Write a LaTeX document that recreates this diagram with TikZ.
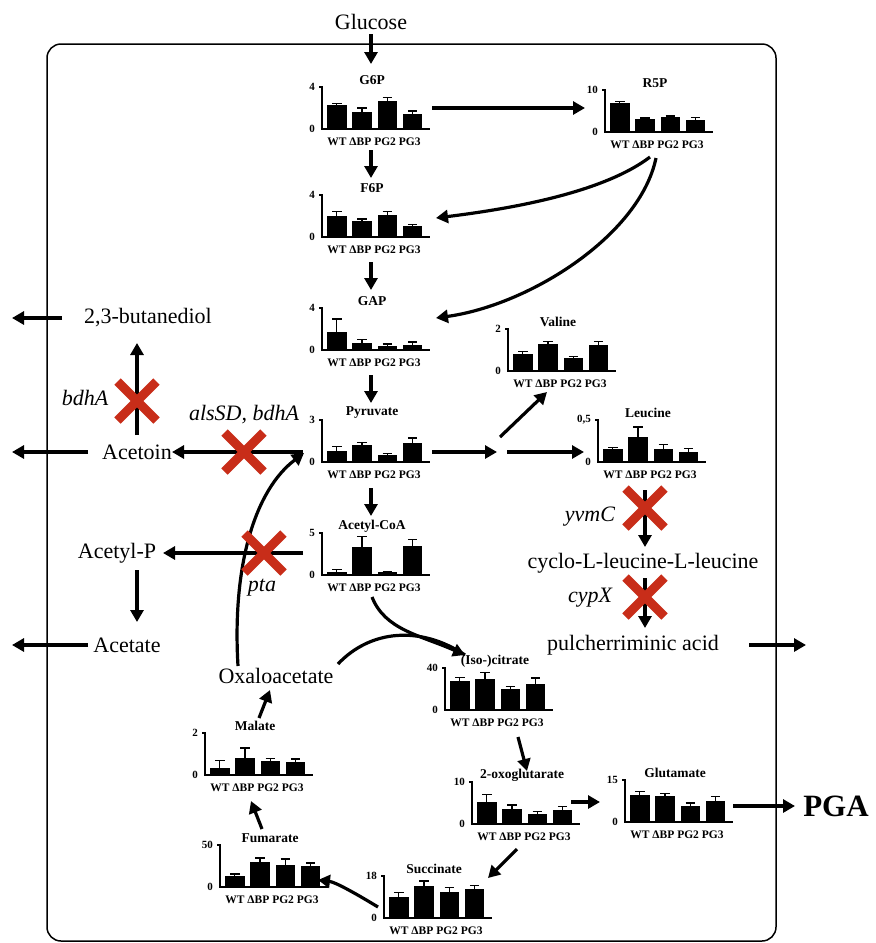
\documentclass[tikz,border=0pt]{standalone}
\usepackage{fontspec}
\setmainfont{Liberation Serif}
\usetikzlibrary{arrows.meta,shapes.misc,calc}
\definecolor{xred}{RGB}{200,45,25}
\tikzset{
 arr/.style={line width=3.2pt,-{Triangle[length=12pt,width=13pt]}},
 lbl/.style={font=\fontsize{22}{26}\selectfont, inner sep=1pt},
 ital/.style={font=\fontsize{22}{26}\selectfont\itshape, inner sep=1pt},
 crossx/.style={cross out, draw=xred, line width=9pt, minimum size=30pt, inner sep=0pt},
 ctitle/.style={font=\fontsize{13.5}{15}\selectfont\bfseries, inner sep=0pt},
 cgrp/.style={font=\fontsize{11.5}{13}\selectfont\bfseries, inner sep=0pt},
 ctick/.style={font=\fontsize{11}{13}\selectfont\bfseries, inner sep=0pt, anchor=east},
 frame/.style={line width=1.5pt, rounded corners=14pt},
}
\newcommand{\mychart}[5]{%
 \begin{scope}[shift={(#2)}]
  \coordinate (#1) at (0,0);
  \foreach \v/\e [count=\i from 0] in {#5} {
    \pgfmathsetmacro{\xa}{5+25.3*\i}
    \fill (\xa,0) rectangle ({\xa+19.5},{-42*\v});
    \draw[line width=1.3pt] ({\xa+9.75},{-42*\v}) -- ({\xa+9.75},{-42*\e});
    \draw[line width=1.3pt] ({\xa+5},{-42*\e}) -- ({\xa+14.5},{-42*\e});
  }
  \draw[line width=1.6pt] (-3,-42) -- (0,-42) -- (0,0) -- (108,0);
  \node[ctick] (#1-max) at (-7,-42) {#4};
  \node[ctick] (#1-zero) at (-7,0) {0};
  \node[ctitle] (#1-title) at (50,-49) {#3};
  \node[cgrp] (#1-grp) at (52,12.5) {WT ΔBP PG2 PG3};
 \end{scope}}
\begin{document}
\begin{tikzpicture}[x=1pt,y=-1pt]
\useasboundingbox (0,0) rectangle (876,943);
\draw[frame] (47,44) rectangle (776,941);

% charts
\mychart{g6p}{322,129}{G6P}{4}{0.56/0.6,0.4/0.5,0.66/0.75,0.35/0.43}
\mychart{r5p}{605,132}{R5P}{10}{0.68/0.73,0.31/0.33,0.36/0.38,0.28/0.35}
\mychart{f6p}{322,237}{F6P}{4}{0.5/0.6,0.37/0.43,0.53/0.6,0.27/0.3}
\mychart{gap}{322,350}{GAP}{4}{0.44/0.74,0.17/0.25,0.1/0.14,0.12/0.19}
\mychart{val}{508,371}{Valine}{2}{0.4/0.47,0.64/0.7,0.3/0.35,0.61/0.71}
\mychart{pyr}{322,462}{Pyruvate}{3}{0.27/0.37,0.4/0.47,0.17/0.2,0.45/0.57}
\mychart{leu}{598,462}{Leucine}{0,5}{0.3/0.34,0.6/0.83,0.3/0.42,0.23/0.32}
\mychart{aco}{322,575}{Acetyl-CoA}{5}{0.06/0.13,0.67/0.92,0.06/0.08,0.7/0.84}
\mychart{cit}{445,710}{(Iso-)citrate}{40}{0.68/0.77,0.75/0.9,0.49/0.56,0.62/0.76}
\mychart{mal}{205,775}{Malate}{2}{0.17/0.35,0.4/0.64,0.34/0.4,0.3/0.38}
\mychart{oxo}{472,824}{2-oxoglutarate}{10}{0.53/0.7,0.35/0.45,0.25/0.3,0.34/0.41}
\mychart{glu}{625,822}{Glutamate}{15}{0.65/0.72,0.63/0.68,0.37/0.45,0.5/0.6}
\mychart{fum}{220,887}{Fumarate}{50}{0.27/0.31,0.6/0.69,0.52/0.67,0.5/0.57}
\mychart{suc}{384,918}{Succinate}{18}{0.51/0.61,0.76/0.88,0.63/0.72,0.69/0.77}

% text labels
\node[lbl] (glc) at (371,22) {Glucose};
\node[lbl] (but) at (148,318) {2,3-butanediol};
\node[ital] (bdh) at (85,398) {bdhA};
\node[ital] (als) at (244,415) {alsSD, bdhA};
\node[lbl] (acn) at (137,452) {Acetoin};
\node[lbl] (acp) at (117,553) {Acetyl-P};
\node[ital] (pta) at (262,588) {pta};
\node[lbl] (ace) at (127,645) {Acetate};
\node[lbl] (oaa) at (276,676) {Oxaloacetate};
\node[ital] (yvm) at (590,517) {yvmC};
\node[lbl] (cyc) at (643,563) {cyclo-L-leucine-L-leucine};
\node[ital] (cyp) at (590,598) {cypX};
\node[lbl] (pul) at (633,645) {pulcherriminic acid};
\node[font=\fontsize{31}{35}\selectfont\bfseries, inner sep=0pt] (pga) at (836,806) {PGA};

% coordinates for arrows
\foreach \n/\p in {a1s/{371,34},a1e/{371,64},a2s/{371,150},a2e/{371,178},
  a3s/{371,262},a3e/{371,290},a4s/{371,375},a4e/{371,403},a5s/{371,488},a5e/{371,516},
  a6s/{432,108},a6e/{585,108},a7s/{650,157},a7e/{436,218},a8s/{656,158},a8e/{436,318},
  a9s/{432,452},a9e/{497,452},a10s/{500,437},a10e/{547,392},a11s/{507,452},a11e/{584,452},
  a12s/{645,490},a12e/{645,547},a13s/{645,578},a13e/{645,628},a14s/{749,645},a14e/{806,645},
  a15s/{733,806},a15e/{795,806},a16s/{571,802},a16e/{600,802},a17s/{518,737},a17e/{527,771},
  a18s/{517,849},a18e/{488,878},a19s/{378,907},a19e/{318,880},a20s/{262,829},a20e/{251,801},
  a21s/{259,718},a21e/{270,690},a22s/{238,666},a22e/{304,453},a23s/{372,597},a23e/{465,655},
  a24s/{338,664},a25s/{303,452},a25e/{172,452},a26s/{88,452},a26e/{12,452},
  a27s/{137,435},a27e/{137,343},a28s/{62,318},a28e/{12,318},a29s/{303,553},a29e/{163,553},
  a30s/{137,570},a30e/{137,622},a31s/{88,645},a31e/{12,645}}
  {\coordinate (\n) at (\p);}

\draw[arr] (a1s) -- (a1e);
\draw[arr] (a2s) -- (a2e);
\draw[arr] (a3s) -- (a3e);
\draw[arr] (a4s) -- (a4e);
\draw[arr] (a5s) -- (a5e);
\draw[arr] (a6s) -- (a6e);
\draw[arr] (a7s) .. controls (600,195) and (500,210) .. (a7e);
\draw[arr] (a8s) .. controls (640,235) and (530,305) .. (a8e);
\draw[arr] (a9s) -- (a9e);
\draw[arr] (a10s) -- (a10e);
\draw[arr] (a11s) -- (a11e);
\draw[arr] (a12s) -- (a12e);
\draw[arr] (a13s) -- (a13e);
\draw[arr] (a14s) -- (a14e);
\draw[arr] (a15s) -- (a15e);
\draw[arr] (a16s) -- (a16e);
\draw[arr] (a17s) -- (a17e);
\draw[arr] (a18s) -- (a18e);
\draw[arr] (a19s) .. controls (355,893) and (335,882) .. (a19e);
\draw[arr] (a20s) -- (a20e);
\draw[arr] (a21s) -- (a21e);
\draw[arr] (a22s) .. controls (232,565) and (255,490) .. (a22e);
\draw[arr] (a23s) .. controls (385,630) and (420,635) .. (a23e);
\draw[line width=3.2pt] (a24s) .. controls (370,630) and (420,625) .. (a23e);
\draw[arr] (a25s) -- (a25e);
\draw[arr] (a26s) -- (a26e);
\draw[arr] (a27s) -- (a27e);
\draw[arr] (a28s) -- (a28e);
\draw[arr] (a29s) -- (a29e);
\draw[arr] (a30s) -- (a30e);
\draw[arr] (a31s) -- (a31e);

% knock-out crosses
\node[crossx] (x1) at (244,452) {};
\node[crossx] (x2) at (137,401) {};
\node[crossx] (x3) at (264,553) {};
\node[crossx] (x4) at (645,508) {};
\node[crossx] (x5) at (645,597) {};
\end{tikzpicture}
\end{document}
